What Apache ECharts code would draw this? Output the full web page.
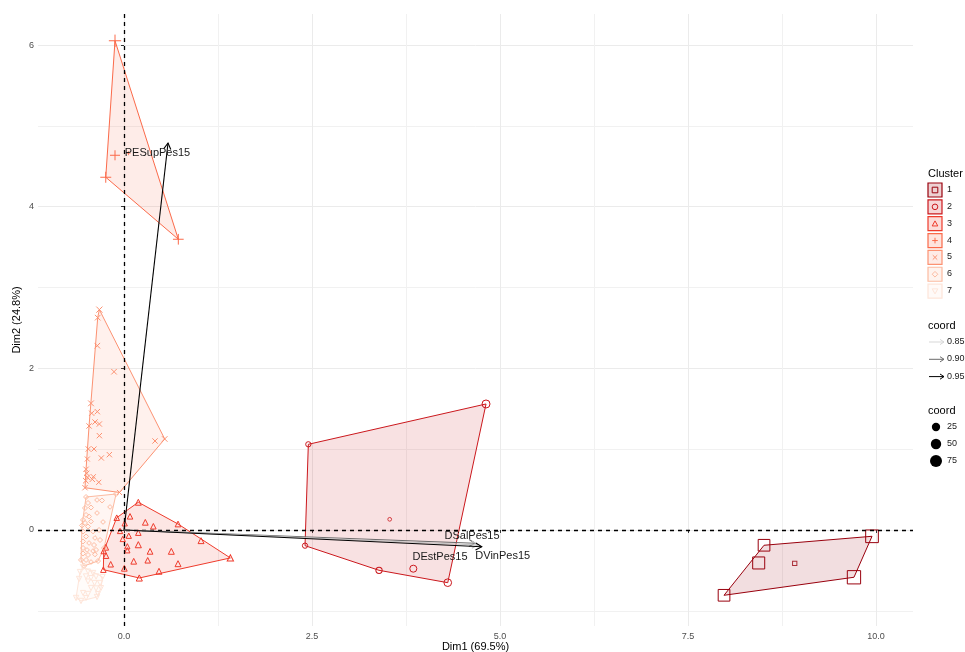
<!DOCTYPE html>
<html>
<head>
<meta charset="utf-8">
<script src="https://cdn.jsdelivr.net/npm/echarts@6/dist/echarts.min.js"></script>
<style>
  html, body { margin: 0; padding: 0; background: #ffffff; }
  #chart { width: 965px; height: 652px; }
</style>
</head>
<body>
<div id="chart"></div>
<script>
// ---- Individuals, by cluster (Dim1, Dim2, coord) ----
const c1Dim1 = [7.979, 8.511, 8.440, 9.707, 9.947];
const c1Dim2 = [-0.808, -0.189, -0.408, -0.585, -0.078];
const c1Coord = [70, 70, 76, 100, 88];

const c2Dim1 = [4.814, 2.451, 2.407, 3.391, 3.847, 4.305];
const c2Dim2 = [1.559, 1.060, -0.194, -0.499, -0.479, -0.652];
const c2Coord = [22, 4, 4, 9, 14, 19];

const c3Dim1 = [0.190, -0.097, 0.080, 0.009, 0.283, 0.390, 0.718, -0.053, 0.063, 0.190, -0.017, 1.024, 0.044, 0.190, -0.243,
                -0.270, 0.044, 0.346, 0.629, -0.239, 0.129, 0.315, 0.718, -0.177, 0.004, -0.275, 0.465, 0.203, 1.414];
const c3Dim2 = [0.343, 0.152, 0.169, 0.083, 0.095, 0.046, 0.074, -0.012, -0.071, -0.033, -0.111, -0.132, -0.202, -0.182, -0.214,
                -0.260, -0.251, -0.264, -0.264, -0.318, -0.387, -0.375, -0.417, -0.424, -0.474, -0.491, -0.511, -0.594, -0.346];
const c3Coord = [7, 5, 5, 4, 6, 5, 6, 4, 4, 5, 4, 7, 4, 8, 6, 5, 4, 6, 7, 5, 6, 5, 7, 5, 6, 5, 7, 8, 9];

const c4Dim1 = [-0.120, -0.120, -0.243, 0.722];
const c4Dim2 = [6.053, 4.636, 4.364, 3.597];
const c4Coord = [81, 45, 59, 55];

const c5Dim1 = [-0.328, -0.350, -0.355, -0.133, -0.439, -0.355, -0.430, -0.386, -0.328, -0.465, -0.328, -0.475, -0.399, -0.302,
                -0.195, -0.488, -0.505, -0.496, -0.488, -0.408, -0.422, -0.509, -0.336, -0.519, 0.412, 0.541, -0.060];
const c5Dim2 = [2.726, 2.627, 2.280, 1.958, 1.567, 1.464, 1.444, 1.336, 1.311, 1.287, 1.167, 1.002, 1.002, 0.891,
                0.932, 0.878, 0.751, 0.701, 0.652, 0.659, 0.627, 0.610, 0.590, 0.523, 1.101, 1.126, 0.464];
const c5Coord = [8, 5, 5, 5, 6, 4, 4, 4, 4, 4, 4, 4, 3, 4, 4, 3, 4, 4, 4, 3, 4, 5, 3, 4, 4, 5, 3];

const c6Dim1 = [-0.106, -0.505, -0.359, -0.293, -0.479, -0.186, -0.519, -0.439, -0.359, -0.505, -0.465, -0.279, -0.545,
                -0.519, -0.439, -0.559, -0.479, -0.412, -0.545, -0.332, -0.505, -0.386, -0.319, -0.545, -0.465, -0.399,
                -0.545, -0.492, -0.372, -0.266, -0.412, -0.545, -0.479, -0.386, -0.572, -0.505, -0.439, -0.346, -0.532];
const c6Dim2 = [0.445, 0.408, 0.371, 0.365, 0.334, 0.285, 0.272, 0.278, 0.210, 0.186, 0.167, 0.099, 0.124,
                0.087, 0.105, 0.056, 0.043, -0.019, -0.019, 0.000, -0.080, -0.099, -0.124, -0.142, -0.161, -0.186,
                -0.223, -0.247, -0.247, -0.223, -0.260, -0.291, -0.309, -0.303, -0.371, -0.371, -0.396, -0.384, -0.445];
const c6Coord = [3, 3, 2, 3, 3, 2, 3, 3, 2, 3, 3, 2, 3, 3, 2, 3, 3, 2, 3, 3, 3, 2, 3, 3, 2, 3, 3, 2, 3, 3, 2, 3, 3, 2, 3, 3, 2, 3, 3];

const c7Dim1 = [-0.545, -0.585, -0.479, -0.412, -0.505, -0.439, -0.372, -0.286, -0.479, -0.392, -0.319,
                -0.306, -0.439, -0.372, -0.545, -0.479, -0.359, -0.638, -0.572, -0.505, -0.598, -0.346];
const c7Dim2 = [-0.458, -0.520, -0.513, -0.532, -0.575, -0.594, -0.575, -0.581, -0.637, -0.656, -0.656,
                -0.718, -0.718, -0.724, -0.779, -0.792, -0.829, -0.841, -0.878, -0.841, -0.606, -0.792];
const c7Coord = [4, 4, 3, 4, 4, 3, 4, 4, 3, 4, 4, 3, 4, 4, 3, 4, 4, 4, 4, 3, 4, 3];

// Cluster centres
const centroidCluster = [1, 2, 4];
const centroidDim1 = [8.919, 3.533, 0.060];
const centroidDim2 = [-0.412, 0.132, 4.662];
const centroidCoord = [1, 0.2, 0.5];

// ---- Variables (arrows) ----
const varNames = ['PESupPes15', 'DSalPes15', 'DEstPes15', 'DVinPes15'];
const varDim1 = [0.585, 4.668, 4.707, 4.757];
const varDim2 = [4.788, -0.165, -0.186, -0.207];
const varCoord = [0.96, 0.90, 0.86, 0.96];
const varLabelDim1 = [0.445, 4.628, 4.202, 5.036];
const varLabelDim2 = [4.664, -0.071, -0.330, -0.322];

// ---- Axes ----
const xTicks = [0, 2.5, 5, 7.5, 10];
const xMinorTicks = [1.25, 3.75, 6.25, 8.75];
const yTicks = [0, 2, 4, 6];
const yMinorTicks = [-1, 1, 3, 5];
const clusterLabels = ['1', '2', '3', '4', '5', '6', '7'];
const arrowLegendValues = [0.85, 0.90, 0.95];
const sizeLegendValues = [25, 50, 75];

// ---- Styling ----
const X_MIN = -1.144, X_MAX = 10.492, Y_MIN = -1.188, Y_MAX = 6.384;
const FONT = '"Liberation Sans", Arial, sans-serif';
const clusterColors = ['#99000D', '#CB181D', '#EF3B2C', '#FB6A4A', '#FC9272', '#FCBBA1', '#FEE5D9'];
const FILL_ALPHA = 0.13;
const PLUS = 'path://M5,0L5,10M0,5L10,5';
const CROSS = 'path://M0,0L10,10M10,0L0,10';
const DOWN_TRI = 'path://M0,0L10,0L5,8.66Z';
const clusterSymbols = ['rect', 'circle', 'triangle', PLUS, CROSS, 'diamond', DOWN_TRI];

const clusterDim1 = [c1Dim1, c2Dim1, c3Dim1, c4Dim1, c5Dim1, c6Dim1, c7Dim1];
const clusterDim2 = [c1Dim2, c2Dim2, c3Dim2, c4Dim2, c5Dim2, c6Dim2, c7Dim2];
const clusterCoord = [c1Coord, c2Coord, c3Coord, c4Coord, c5Coord, c6Coord, c7Coord];

function sizeOf(coord) { return 3.3 + Math.sqrt(coord); }

function rgba(hex, a) {
  const n = parseInt(hex.slice(1), 16);
  return 'rgba(' + ((n >> 16) & 255) + ',' + ((n >> 8) & 255) + ',' + (n & 255) + ',' + a + ')';
}

function arrowColor(v) {
  const t = Math.max(0, Math.min(1, (v - 0.85) / 0.10));
  const g = Math.round(215 * (1 - t));
  return 'rgb(' + g + ',' + g + ',' + g + ')';
}

// Convex hull (monotone chain) of a cluster's points
function convexHull(xs, ys) {
  const pts = xs.map((x, i) => [x, ys[i]]).sort((a, b) => a[0] - b[0] || a[1] - b[1]);
  const cross = (o, a, b) => (a[0] - o[0]) * (b[1] - o[1]) - (a[1] - o[1]) * (b[0] - o[0]);
  const lower = [];
  for (const p of pts) {
    while (lower.length >= 2 && cross(lower[lower.length - 2], lower[lower.length - 1], p) <= 0) lower.pop();
    lower.push(p);
  }
  const upper = [];
  for (let i = pts.length - 1; i >= 0; i--) {
    const p = pts[i];
    while (upper.length >= 2 && cross(upper[upper.length - 2], upper[upper.length - 1], p) <= 0) upper.pop();
    upper.push(p);
  }
  upper.pop(); lower.pop();
  return lower.concat(upper);
}

const hulls = clusterDim1.map((xs, i) => convexHull(xs, clusterDim2[i]));

const series = [];

// Cluster hulls + reference lines
series.push({
  type: 'custom',
  name: 'hulls',
  coordinateSystem: 'cartesian2d',
  silent: true,
  z: 1,
  data: hulls.map((h, i) => [h[0][0], h[0][1], i]),
  encode: { x: 0, y: 1 },
  renderItem(params, api) {
    const i = params.dataIndex;
    const pts = hulls[i].map(p => api.coord(p));
    return {
      type: 'polygon',
      shape: { points: pts },
      style: { fill: rgba(clusterColors[i], FILL_ALPHA), stroke: clusterColors[i], lineWidth: 1 }
    };
  },
  markLine: {
    silent: true,
    symbol: ['none', 'none'],
    label: { show: false },
    lineStyle: { color: '#000000', type: [4, 4], width: 1.3 },
    data: [{ xAxis: 0 }, { yAxis: 0 }]
  }
});

// Individuals
clusterDim1.forEach((xs, i) => {
  series.push({
    type: 'scatter',
    name: 'Cluster ' + clusterLabels[i],
    z: 2,
    symbol: clusterSymbols[i],
    symbolSize: v => sizeOf(v[2]),
    itemStyle: { color: 'rgba(0,0,0,0)', borderColor: clusterColors[i], borderWidth: 1, opacity: 1 },
    data: xs.map((x, k) => [x, clusterDim2[i][k], clusterCoord[i][k]])
  });
});

// Cluster centres
centroidCluster.forEach((c, k) => {
  series.push({
    type: 'scatter',
    z: 2,
    symbol: clusterSymbols[c - 1],
    symbolSize: v => sizeOf(v[2]),
    itemStyle: { color: 'rgba(0,0,0,0)', borderColor: clusterColors[c - 1], borderWidth: 1 },
    data: [[centroidDim1[k], centroidDim2[k], centroidCoord[k]]]
  });
});

// Variable arrows with labels
series.push({
  type: 'custom',
  name: 'variables',
  coordinateSystem: 'cartesian2d',
  silent: true,
  z: 5,
  data: varNames.map((n, i) => [varDim1[i], varDim2[i], varCoord[i], varLabelDim1[i], varLabelDim2[i]]),
  encode: { x: 0, y: 1 },
  renderItem(params, api) {
    const o = api.coord([0, 0]);
    const t = api.coord([api.value(0), api.value(1)]);
    const col = arrowColor(api.value(2));
    const ang = Math.atan2(t[1] - o[1], t[0] - o[0]);
    const L = 7, A = Math.PI / 6;
    const h1 = [t[0] - L * Math.cos(ang - A), t[1] - L * Math.sin(ang - A)];
    const h2 = [t[0] - L * Math.cos(ang + A), t[1] - L * Math.sin(ang + A)];
    const lp = api.coord([api.value(3), api.value(4)]);
    return {
      type: 'group',
      children: [
        { type: 'line', shape: { x1: o[0], y1: o[1], x2: t[0], y2: t[1] }, style: { stroke: col, lineWidth: 1.1 } },
        { type: 'polyline', shape: { points: [h1, t, h2] }, style: { stroke: col, lineWidth: 1.1, fill: null } },
        { type: 'text', style: { text: varNames[params.dataIndex], x: lp[0], y: lp[1], align: 'center', verticalAlign: 'middle',
            fill: '#1a1a1a', font: '11px ' + FONT } }
      ]
    };
  }
});

// ---- Legends (drawn as graphics) ----
const graphics = [];
const LX = 928, KEY = 14, LCX = LX + 7;
graphics.push({ type: 'text', left: LX, top: 168, style: { text: 'Cluster', font: '11px ' + FONT, fill: '#000' } });

function keySymbol(i, cx, cy, col) {
  const s = 2.8;
  const st = { stroke: col, lineWidth: 1, fill: null };
  switch (i) {
    case 0: return { type: 'rect', shape: { x: cx - s, y: cy - s, width: 2 * s, height: 2 * s }, style: st };
    case 1: return { type: 'circle', shape: { cx: cx, cy: cy, r: s }, style: st };
    case 2: return { type: 'polygon', shape: { points: [[cx, cy - s], [cx + s, cy + s * 0.8], [cx - s, cy + s * 0.8]] }, style: st };
    case 3: return { type: 'group', children: [
      { type: 'line', shape: { x1: cx - s, y1: cy, x2: cx + s, y2: cy }, style: st },
      { type: 'line', shape: { x1: cx, y1: cy - s, x2: cx, y2: cy + s }, style: st }] };
    case 4: return { type: 'group', children: [
      { type: 'line', shape: { x1: cx - s * 0.8, y1: cy - s * 0.8, x2: cx + s * 0.8, y2: cy + s * 0.8 }, style: st },
      { type: 'line', shape: { x1: cx + s * 0.8, y1: cy - s * 0.8, x2: cx - s * 0.8, y2: cy + s * 0.8 }, style: st }] };
    case 5: return { type: 'polygon', shape: { points: [[cx, cy - s], [cx + s, cy], [cx, cy + s], [cx - s, cy]] }, style: st };
    default: return { type: 'polygon', shape: { points: [[cx - s, cy - s * 0.8], [cx + s, cy - s * 0.8], [cx, cy + s]] }, style: st };
  }
}

clusterLabels.forEach((lab, i) => {
  const cy = 190 + i * 16.85;
  const col = clusterColors[i];
  graphics.push({ type: 'rect', shape: { x: LCX - KEY / 2, y: cy - KEY / 2, width: KEY, height: KEY },
    style: { fill: rgba(col, 0.18), stroke: col, lineWidth: 1.2 } });
  graphics.push(keySymbol(i, LCX, cy, col));
  graphics.push({ type: 'text', left: 947, top: cy - 5, style: { text: lab, font: '9px ' + FONT, fill: '#1a1a1a' } });
});

graphics.push({ type: 'text', left: LX, top: 320, style: { text: 'coord', font: '11px ' + FONT, fill: '#000' } });
arrowLegendValues.forEach((v, i) => {
  const cy = 342 + i * 17.3;
  const col = arrowColor(v);
  graphics.push({ type: 'line', shape: { x1: 929, y1: cy, x2: 944, y2: cy }, style: { stroke: col, lineWidth: 1 } });
  graphics.push({ type: 'polyline', shape: { points: [[940, cy - 2.6], [944, cy], [940, cy + 2.6]] }, style: { stroke: col, lineWidth: 1, fill: null } });
  graphics.push({ type: 'text', left: 947, top: cy - 5, style: { text: v.toFixed(2), font: '9px ' + FONT, fill: '#1a1a1a' } });
});

graphics.push({ type: 'text', left: LX, top: 405, style: { text: 'coord', font: '11px ' + FONT, fill: '#000' } });
sizeLegendValues.forEach((v, i) => {
  const cy = 427 + i * 17;
  graphics.push({ type: 'circle', shape: { cx: 936, cy: cy, r: sizeOf(v) / 2 }, style: { fill: '#000' } });
  graphics.push({ type: 'text', left: 947, top: cy - 5, style: { text: String(v), font: '9px ' + FONT, fill: '#1a1a1a' } });
});

const axisNameStyle = { color: '#000000', fontSize: 11, fontFamily: FONT };
const tickLabelStyle = { color: '#4d4d4d', fontSize: 9, fontFamily: FONT };

const option = {
  animation: false,
  backgroundColor: '#ffffff',
  grid: { left: 38, right: 52, top: 14, bottom: 26, containLabel: false, outerBoundsMode: 'none' },
  xAxis: [
    {
      type: 'value', min: X_MIN, max: X_MAX,
      name: 'Dim1 (69.5%)', nameLocation: 'middle', nameGap: 15, nameMoveOverlap: false, nameTextStyle: axisNameStyle,
      axisLine: { show: false },
      axisTick: { show: true, customValues: xTicks, length: 3, lineStyle: { color: '#333333', width: 1 } },
      axisLabel: { customValues: xTicks, formatter: v => v.toFixed(1), margin: 6, ...tickLabelStyle },
      splitLine: { show: true, lineStyle: { color: '#ebebeb', width: 1 } }
    },
    {
      type: 'value', min: X_MIN, max: X_MAX, position: 'bottom',
      axisLine: { show: false },
      axisTick: { show: false, customValues: xMinorTicks },
      axisLabel: { show: false, customValues: xMinorTicks },
      splitLine: { show: true, lineStyle: { color: '#f1f1f1', width: 1 } }
    }
  ],
  yAxis: [
    {
      type: 'value', min: Y_MIN, max: Y_MAX,
      name: 'Dim2 (24.8%)', nameLocation: 'middle', nameGap: 16, nameMoveOverlap: false, nameTextStyle: axisNameStyle,
      axisLine: { show: false },
      axisTick: { show: true, customValues: yTicks, length: 3, lineStyle: { color: '#333333', width: 1 } },
      axisLabel: { customValues: yTicks, formatter: v => String(v), margin: 4, ...tickLabelStyle },
      splitLine: { show: true, lineStyle: { color: '#ebebeb', width: 1 } }
    },
    {
      type: 'value', min: Y_MIN, max: Y_MAX, position: 'left',
      axisLine: { show: false },
      axisTick: { show: false, customValues: yMinorTicks },
      axisLabel: { show: false, customValues: yMinorTicks },
      splitLine: { show: true, lineStyle: { color: '#f1f1f1', width: 1 } }
    }
  ],
  series: series,
  graphic: graphics
};

const chart = echarts.init(document.getElementById('chart'), null, { renderer: 'canvas' });
chart.setOption(option);
</script>
</body>
</html>
